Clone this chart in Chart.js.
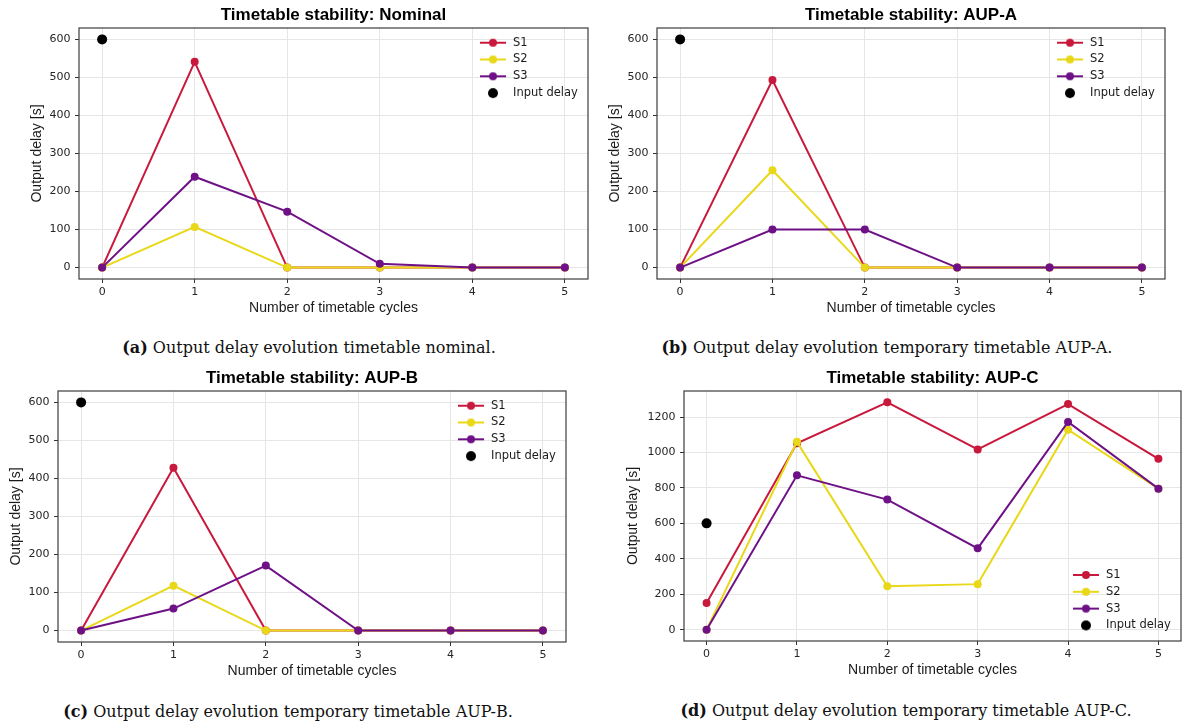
<!DOCTYPE html>
<html><head><meta charset="utf-8">
<script src="https://cdn.jsdelivr.net/npm/chart.js@4.4.1/dist/chart.umd.min.js"></script>
<style>
html,body{margin:0;padding:0;background:#fff;width:1186px;height:726px;overflow:hidden;position:relative}
canvas{position:absolute}
.cap{position:absolute;width:600px;text-align:center;font-family:'DejaVu Serif';font-size:16px;line-height:20px;color:#111;white-space:nowrap}
</style></head><body>
<canvas id="cA" width="575" height="319" style="left:21px;top:0px"></canvas>
<canvas id="cB" width="574" height="319" style="left:599px;top:0px"></canvas>
<canvas id="cC" width="574" height="319" style="left:0px;top:363px"></canvas>
<canvas id="cD" width="572" height="318" style="left:614px;top:363px"></canvas>
<div class="cap" style="left:9px;top:338px"><b>(a)</b> Output delay evolution timetable nominal.</div>
<div class="cap" style="left:587px;top:338px"><b>(b)</b> Output delay evolution temporary timetable AUP-A.</div>
<div class="cap" style="left:-12px;top:702px"><b>(c)</b> Output delay evolution temporary timetable AUP-B.</div>
<div class="cap" style="left:606px;top:701px"><b>(d)</b> Output delay evolution temporary timetable AUP-C.</div>
<script>
// ---------- data ----------
const cycles = [0, 1, 2, 3, 4, 5];
const xTicks = [0, 1, 2, 3, 4, 5];
const yTicksSmall = [0, 100, 200, 300, 400, 500, 600];
const yTicksLarge = [0, 200, 400, 600, 800, 1000, 1200];
const seriesNames = ['S1', 'S2', 'S3'];
const inputLabel = 'Input delay';
const inputDelayX = [0];
const inputDelayY = [600];

const nominalS1 = [0, 541, 0, 0, 0, 0];
const nominalS2 = [0, 107, 0, 0, 0, 0];
const nominalS3 = [0, 239, 147, 10, 0, 0];

const aupAS1 = [0, 493, 0, 0, 0, 0];
const aupAS2 = [0, 256, 0, 0, 0, 0];
const aupAS3 = [0, 100, 100, 0, 0, 0];

const aupBS1 = [0, 428, 0, 0, 0, 0];
const aupBS2 = [0, 118, 0, 0, 0, 0];
const aupBS3 = [0, 58, 171, 0, 0, 0];

const aupCS1 = [150, 1052, 1283, 1017, 1273, 964];
const aupCS2 = [0, 1060, 245, 257, 1129, 796];
const aupCS3 = [0, 871, 734, 459, 1172, 796];

const panelTitles = ['Timetable stability: Nominal', 'Timetable stability: AUP-A',
                     'Timetable stability: AUP-B', 'Timetable stability: AUP-C'];
const xTitle = 'Number of timetable cycles';
const yTitle = 'Output delay [s]';

// ---------- styles ----------
const colors = ['#c8193d', '#e8d817', '#6f1186'];
const LEG_FS = 11.5, LEG_PAD = 5.3;

function legendImage(color, withLine, r) {
  const c = document.createElement('canvas');
  c.width = 26; c.height = 12;
  const g = c.getContext('2d');
  if (withLine) {
    g.strokeStyle = color; g.lineWidth = 2;
    g.beginPath(); g.moveTo(0, 6); g.lineTo(26, 6); g.stroke();
  }
  g.fillStyle = color;
  g.beginPath(); g.arc(13, 6, r, 0, Math.PI * 2); g.fill();
  return c;
}
const legendImgs = [legendImage(colors[0], true, 4), legendImage(colors[1], true, 4),
                    legendImage(colors[2], true, 4), legendImage('#000', false, 5)];

const framePlugin = {
  id: 'frame',
  afterDraw(chart) {
    const {ctx, chartArea: a} = chart;
    ctx.save();
    ctx.strokeStyle = '#3c3c3c'; ctx.lineWidth = 1.2;
    ctx.strokeRect(a.left, a.top, a.right - a.left, a.bottom - a.top);
    ctx.restore();
  }
};
const legendPlacer = {
  id: 'legendPlacer',
  afterLayout(chart, args, opts) {
    const lg = chart.legend; if (!lg) return;
    const a = chart.chartArea;
    const ls = a.right - 108;
    const row1 = opts.corner === 'br' ? a.bottom - 66 : a.top + 14.7;
    const w = 125, h = 4 * (LEG_FS + LEG_PAD) + LEG_PAD + 6;
    lg.left = ls - 1.25 - LEG_PAD;
    lg.top = row1 - LEG_FS / 2 - LEG_PAD;
    lg.right = lg.left + w; lg.bottom = lg.top + h;
    lg.width = w; lg.height = h;
  }
};

function pts(arr) { return cycles.map((c, i) => ({x: c, y: arr[i]})); }

function makeChart(id, title, s1, s2, s3, opt) {
  const series = [s1, s2, s3];
  const datasets = series.map((arr, k) => ({
    label: seriesNames[k], data: pts(arr), showLine: true,
    borderColor: colors[k], backgroundColor: colors[k], borderWidth: 2,
    pointRadius: 4, pointHoverRadius: 4, pointBorderWidth: 0,
    pointBackgroundColor: colors[k], tension: 0, order: 3 - k
  }));
  datasets.push({
    label: inputLabel, data: inputDelayX.map((x, i) => ({x: x, y: inputDelayY[i]})),
    showLine: false, pointRadius: 5, pointHoverRadius: 5, pointBorderWidth: 0,
    backgroundColor: '#000', pointBackgroundColor: '#000', borderColor: '#000', order: 0
  });
  const tickFont = {family: 'DejaVu Sans', size: 11};
  const grid = {color: '#e6e6e6', lineWidth: 1, drawTicks: true, tickLength: 4, tickColor: '#333', tickWidth: 1};
  return new Chart(document.getElementById(id), {
    type: 'scatter',
    data: {datasets},
    plugins: [framePlugin, legendPlacer],
    options: {
      responsive: false, animation: false, events: [],
      layout: {padding: {left: 0, top: 0, right: opt.padRight, bottom: 0}},
      scales: {
        x: {
          type: 'linear', min: -0.25, max: 5.25,
          afterBuildTicks: s => { s.ticks = xTicks.map(v => ({value: v})); },
          afterFit: s => { s.height = 40; },
          grid: grid, border: {display: false},
          ticks: {font: tickFont, color: '#262626', padding: 3, maxRotation: 0, autoSkip: false, callback: v => String(v)},
          title: {display: true, text: xTitle, font: {family: 'Liberation Sans', size: 14}, color: '#1a1a1a', padding: {top: 0, bottom: 2.6}}
        },
        y: {
          type: 'linear', min: opt.yMin, max: opt.yMax,
          afterBuildTicks: s => { s.ticks = opt.yTicks.map(v => ({value: v})); },
          afterFit: s => { s.width = opt.yWidth; },
          grid: grid, border: {display: false},
          ticks: {font: tickFont, color: '#262626', padding: 4.6, autoSkip: false, callback: v => String(v)},
          title: {display: true, text: yTitle, font: {family: 'Liberation Sans', size: 14}, color: '#1a1a1a', padding: {top: opt.yTitlePad, bottom: 0}}
        }
      },
      plugins: {
        tooltip: {enabled: false},
        title: {display: true, text: title, fullSize: false, color: '#000',
                font: {family: 'Liberation Sans', size: 17, weight: 'bold'}, padding: {top: 4.8, bottom: 2.8}},
        legend: {
          display: true, position: 'chartArea', align: 'start',
          labels: {
            usePointStyle: true, pointStyleWidth: 28.5, padding: LEG_PAD, color: '#1a1a1a',
            font: {family: 'DejaVu Sans', size: LEG_FS},
            generateLabels: (chart) => chart.data.datasets.map((d, i) => ({
              text: d.label, pointStyle: legendImgs[i], fillStyle: '#000', strokeStyle: '#000',
              lineWidth: 0, hidden: false, datasetIndex: i, fontColor: '#1a1a1a'
            }))
          }
        },
        legendPlacer: {corner: opt.corner}
      }
    }
  });
}

makeChart('cA', panelTitles[0], nominalS1, nominalS2, nominalS3,
  {yMin: -30, yMax: 630, yTicks: yTicksSmall, yWidth: 58, yTitlePad: 7.5, padRight: 8, corner: 'tr'});
makeChart('cB', panelTitles[1], aupAS1, aupAS2, aupAS3,
  {yMin: -30, yMax: 630, yTicks: yTicksSmall, yWidth: 58, yTitlePad: 7.5, padRight: 8, corner: 'tr'});
makeChart('cC', panelTitles[2], aupBS1, aupBS2, aupBS3,
  {yMin: -30, yMax: 630, yTicks: yTicksSmall, yWidth: 58, yTitlePad: 7.4, padRight: 8, corner: 'tr'});
makeChart('cD', panelTitles[3], aupCS1, aupCS2, aupCS3,
  {yMin: -64, yMax: 1347, yTicks: yTicksLarge, yWidth: 70, yTitlePad: 11, padRight: 1, corner: 'br'});
</script>
</body></html>
